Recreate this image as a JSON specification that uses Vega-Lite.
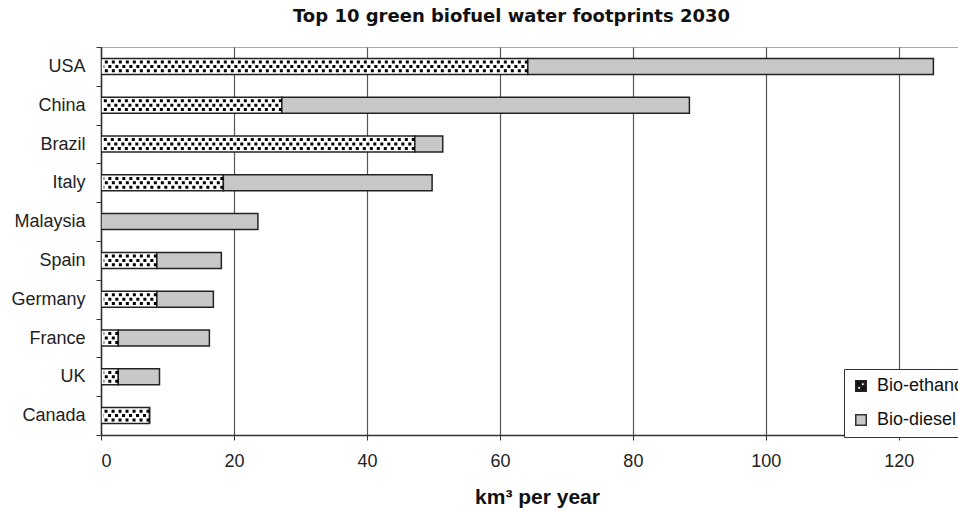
{
  "$schema": "https://vega.github.io/schema/vega-lite/v6.json",
  "width": 857,
  "height": 388,
  "autosize": {"type": "none"},
  "padding": {"left": 101, "top": 47, "right": 0, "bottom": 76},
  "background": "white",
  "config": {
    "font": "Liberation Sans",
    "view": {"stroke": "#aaaaaa", "strokeWidth": 1},
    "axis": {"labelFont": "Liberation Sans", "titleFont": "Liberation Sans", "labelColor": "#222", "titleColor": "#111"}
  },
  "title": {
    "text": "Top 10 green biofuel water footprints 2030",
    "font": "DejaVu Sans",
    "fontSize": 18,
    "fontWeight": "bold",
    "color": "#111",
    "anchor": "middle",
    "dx": -18,
    "offset": 12
  },
  "data": {
    "values": [
      {"country": "USA", "type": "Bio-ethanol", "value": 64.2},
      {"country": "USA", "type": "Bio-diesel", "value": 61.0},
      {"country": "China", "type": "Bio-ethanol", "value": 27.2},
      {"country": "China", "type": "Bio-diesel", "value": 61.3},
      {"country": "Brazil", "type": "Bio-ethanol", "value": 47.2},
      {"country": "Brazil", "type": "Bio-diesel", "value": 4.2},
      {"country": "Italy", "type": "Bio-ethanol", "value": 18.4},
      {"country": "Italy", "type": "Bio-diesel", "value": 31.4},
      {"country": "Malaysia", "type": "Bio-ethanol", "value": 0},
      {"country": "Malaysia", "type": "Bio-diesel", "value": 23.6},
      {"country": "Spain", "type": "Bio-ethanol", "value": 8.4},
      {"country": "Spain", "type": "Bio-diesel", "value": 9.7},
      {"country": "Germany", "type": "Bio-ethanol", "value": 8.4},
      {"country": "Germany", "type": "Bio-diesel", "value": 8.5},
      {"country": "France", "type": "Bio-ethanol", "value": 2.6},
      {"country": "France", "type": "Bio-diesel", "value": 13.7},
      {"country": "UK", "type": "Bio-ethanol", "value": 2.6},
      {"country": "UK", "type": "Bio-diesel", "value": 6.2},
      {"country": "Canada", "type": "Bio-ethanol", "value": 7.3},
      {"country": "Canada", "type": "Bio-diesel", "value": 0}
    ]
  },
  "encoding": {
    "y": {
      "field": "country",
      "type": "nominal",
      "sort": ["USA", "China", "Brazil", "Italy", "Malaysia", "Spain", "Germany", "France", "UK", "Canada"],
      "scale": {"paddingInner": 0, "paddingOuter": 0},
      "axis": {
        "title": null,
        "labelFontSize": 18,
        "labelPadding": 11,
        "tickSize": 5,
        "tickBand": "extent",
        "tickColor": "#333",
        "domainColor": "#333",
        "domainWidth": 1.5,
        "grid": false
      }
    }
  },
  "layer": [
    {
      "mark": {"type": "bar", "size": 16, "stroke": "#222", "strokeWidth": 1.5, "clip": true},
      "encoding": {
        "x": {
          "field": "value",
          "type": "quantitative",
          "stack": "zero",
          "scale": {"domain": [0, 128.9], "nice": false, "zero": true},
          "axis": {
            "title": "km³  per year",
            "titleFontSize": 21,
            "titleFontWeight": "bold",
            "titleX": 436,
            "titleY": 68,
            "titleBaseline": "alphabetic",
            "titleAlign": "center",
            "labelFontSize": 18,
            "labelPadding": 12,
            "tickSize": 5,
            "tickColor": "#333",
            "values": [0, 20, 40, 60, 80, 100, 120],
            "grid": true,
            "gridColor": "#555",
            "gridWidth": 1.2,
            "domainColor": "#333",
            "domainWidth": 1.5
          }
        },
        "detail": {"field": "type", "type": "nominal"},
        "fill": {"condition": {"test": "datum.type === 'Bio-ethanol'", "value": "#ffffff"}, "value": "#c8c8c8"},
        "order": {"field": "type", "sort": "descending"}
      }
    },
    {
      "transform": [{"filter": "datum.type === 'Bio-ethanol' && datum.value > 0"}],
      "mark": {"type": "rule", "color": "#000", "strokeWidth": 3, "strokeDash": [3, 4], "strokeCap": "butt", "yOffset": -4.4},
      "encoding": {
        "x": {"field": "value", "type": "quantitative"},
        "x2": {"datum": 0.4}
      }
    },
    {
      "transform": [{"filter": "datum.type === 'Bio-ethanol' && datum.value > 0"}],
      "mark": {"type": "rule", "color": "#000", "strokeWidth": 3, "strokeDash": [3, 4], "strokeCap": "butt", "strokeDashOffset": 3.5, "yOffset": 0},
      "encoding": {
        "x": {"field": "value", "type": "quantitative"},
        "x2": {"datum": 0.4}
      }
    },
    {
      "transform": [{"filter": "datum.type === 'Bio-ethanol' && datum.value > 0"}],
      "mark": {"type": "rule", "color": "#000", "strokeWidth": 3, "strokeDash": [3, 4], "strokeCap": "butt", "yOffset": 4.4},
      "encoding": {
        "x": {"field": "value", "type": "quantitative"},
        "x2": {"datum": 0.4}
      }
    },
    {
      "transform": [{"filter": "false"}],
      "mark": {"type": "point", "filled": true, "opacity": 1, "size": 110, "strokeWidth": 1.2},
      "encoding": {
        "fill": {
          "field": "type",
          "type": "nominal",
          "scale": {"domain": ["Bio-ethanol", "Bio-diesel"], "range": ["#111111", "#c8c8c8"]},
          "legend": {
            "title": null,
            "orient": "none",
            "legendX": 743,
            "legendY": 322,
            "padding": 8,
            "rowPadding": 16,
            "strokeColor": "#333",
            "fillColor": "white",
            "labelFontSize": 18,
            "labelColor": "#111",
            "labelOffset": 7,
            "symbolSize": 110
          }
        },
        "stroke": {
          "field": "type",
          "type": "nominal",
          "scale": {"domain": ["Bio-ethanol", "Bio-diesel"], "range": ["#222222", "#333333"]},
          "legend": {
            "title": null,
            "orient": "none",
            "legendX": 743,
            "legendY": 322,
            "padding": 8,
            "rowPadding": 16,
            "strokeColor": "#333",
            "fillColor": "white",
            "labelFontSize": 18,
            "labelColor": "#111",
            "labelOffset": 7,
            "symbolSize": 110
          }
        },
        "shape": {
          "field": "type",
          "type": "nominal",
          "scale": {"domain": ["Bio-ethanol", "Bio-diesel"], "range": ["M-1,-1H1V1H-1Z M0.05,-0.65V-0.05H0.65V-0.65Z M-0.65,0.05V0.65H-0.05V0.05Z", "square"]},
          "legend": {
            "title": null,
            "orient": "none",
            "legendX": 743,
            "legendY": 322,
            "padding": 8,
            "rowPadding": 16,
            "strokeColor": "#333",
            "fillColor": "white",
            "labelFontSize": 18,
            "labelColor": "#111",
            "labelOffset": 7,
            "symbolSize": 110
          }
        }
      }
    }
  ]
}
